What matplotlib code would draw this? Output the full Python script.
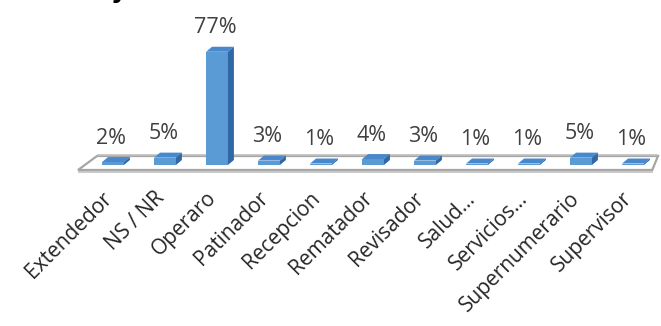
import numpy as np
import matplotlib
matplotlib.use('agg')
import matplotlib.pyplot as plt
from matplotlib.patches import Polygon

# datos
categorias = ['Extendedor', 'NS / NR', 'Operaro', 'Patinador', 'Recepcion',
              'Rematador', 'Revisador', 'Salud...', 'Servicios...',
              'Supernumerario', 'Supervisor']
porcentajes = [2, 5, 77, 3, 1, 4, 3, 1, 1, 5, 1]
etiquetas = ['2%', '5%', '77%', '3%', '1%', '4%', '3%', '1%', '1%', '5%', '1%']

plt.rcParams['font.family'] = ['Open Sans', 'DejaVu Sans']

fig = plt.figure(figsize=(6.61, 3.26), dpi=100)
ax = fig.add_axes([0, 0, 1, 1])
ax.set_xlim(-2.173, 10.538)
ax.set_ylim(-109.5, 112.2)
ax.axis('off')

x = np.arange(len(categorias))
ancho = 0.42
dx, dy = 0.115, 3.4

# piso 3D
piso = Polygon([(-0.673, -3.4), (-0.308, 6.1), (10.48, 6.1), (10.37, -3.4)],
               closed=True, facecolor='white', edgecolor='#a6a6a6', lw=1.6, zorder=1)
ax.add_patch(piso)
ax.plot([-0.66, 10.36], [-4.6, -4.6], color='#c8c8c8', lw=1.4, zorder=1)
ax.plot([-0.29, 10.47], [7.0, 7.0], color='#c0c0c0', lw=1.2, zorder=1)

# barras con caras laterales y superior
ax.bar(x, porcentajes, width=ancho, color='#5b9bd5', zorder=3)
for xi, v in zip(x, porcentajes):
    l, r = xi - ancho / 2, xi + ancho / 2
    top = Polygon([(l, v), (r, v), (r + dx, v + dy), (l + dx, v + dy)],
                  closed=True, facecolor='#4a88cc', edgecolor='none', zorder=3)
    lado = Polygon([(r, 0), (r + dx, dy), (r + dx, v + dy), (r, v)],
                   closed=True, facecolor='#2f68a4', edgecolor='none', zorder=3)
    ax.add_patch(top)
    ax.add_patch(lado)
    ax.text(xi - 0.03, v + 12.5, etiquetas[xi], ha='center', va='baseline',
            fontsize=15.5, color='#404040', zorder=4)

for xi, c in zip(x, categorias):
    ax.text(xi - 0.22, -15.5, c, rotation=45, rotation_mode='anchor',
            ha='right', va='top', fontsize=15, color='#262626')

# resto del titulo cortado arriba
fig.text(0.168, 1.006, 'y', fontsize=18, fontweight='bold', color='black',
         ha='left', va='baseline', family='DejaVu Sans')

plt.savefig('out.png', dpi=100)
